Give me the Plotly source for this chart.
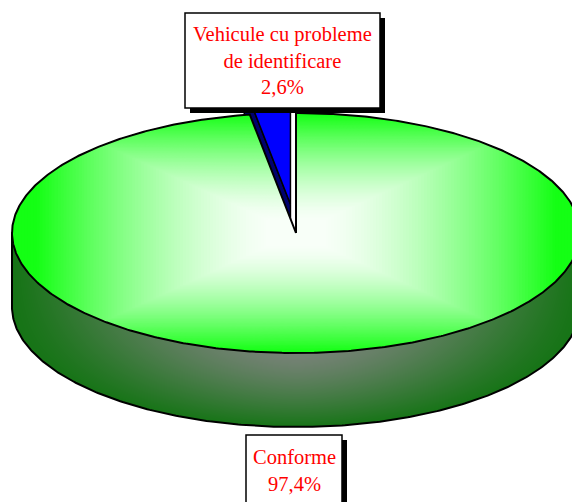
import numpy as np
import plotly.graph_objects as go

# ---- data ----
categories = ["Conforme", "Vehicule cu probleme<br>de identificare"]
values = [97.4, 2.6]
explode = [0.0, 0.24]

# ---- layout / geometry parameters (page pixels) ----
W, H = 572, 502
cx, cy, rx, ry, depth = 296, 233, 284, 120, 74
GRAD_AX, GRAD_AY = 0.92, 1.0   # extent of the rectangular top-face gradient

EDGE_GREEN = (20, 255, 20)
CENTER_GREEN = (248, 255, 248)
SIDE_GRAY = (118, 130, 118)
SIDE_GREEN = (22, 116, 22)
TOP_BLUE = "rgb(0,0,255)"
CUT_BLUE = "rgb(0,0,110)"


def shade(t):
    return float(np.clip((t - 0.1) / 0.9, 0, 1) ** 1.5)


def lerp(c1, c2, t):
    t = min(max(t, 0.0), 1.0)
    return "rgb(%d,%d,%d)" % tuple(round(a + (b - a) * t) for a, b in zip(c1, c2))


def px(theta, r=1.0, ox=0.0):
    return cx + ox + r * rx * np.sin(np.radians(theta))


def py(theta, r=1.0, oy=0.0):
    return cy + oy - r * ry * np.cos(np.radians(theta))


total = sum(values)
bounds = np.concatenate([[0], np.cumsum(values) / total * 360.0])
slices = []
for i, v in enumerate(values):
    a0, a1 = bounds[i], bounds[i + 1]
    mid = np.radians((a0 + a1) / 2)
    ox = explode[i] * rx * np.sin(mid)
    oy = -explode[i] * ry * np.cos(mid)
    slices.append((a0, a1, ox, oy))

fig = go.Figure()


def poly(xs, ys, fill, line_color=None, lw=0.0):
    fig.add_trace(go.Scatter(
        x=list(xs), y=list(ys), mode="lines", fill="toself",
        fillcolor=fill,
        line=dict(color=line_color or fill, width=lw),
        hoverinfo="skip", showlegend=False))


def outline(xs, ys, lw=2):
    fig.add_trace(go.Scatter(
        x=list(xs), y=list(ys), mode="lines",
        line=dict(color="black", width=lw),
        hoverinfo="skip", showlegend=False))


# ---- side face (front half): smooth shading, trimmed by a white mask ----
gx = np.arange(cx - rx, cx + rx + 1, 2.0)
gy = np.arange(cy, cy + ry + depth + 3, 2.0)
GX, GY = np.meshgrid(gx, gy)
U = np.clip(np.abs(GX - cx) / rx, 0, 1)
ytop = cy + ry * np.sqrt(np.clip(1 - U ** 2, 0, 1))
V = np.clip((GY - ytop) / depth, 0, 1)
Z = 1 - (1 - U ** 1.5) * (1 - V ** 1.3)
fig.add_trace(go.Heatmap(
    x=gx, y=gy, z=Z, zmin=0, zmax=1, zsmooth="best", showscale=False,
    colorscale=[[0, lerp(SIDE_GRAY, SIDE_GRAY, 0)], [1, lerp(SIDE_GREEN, SIDE_GREEN, 0)]],
    hoverinfo="skip"))
ta = np.linspace(90, 270, 300)
bx, by = px(ta), py(ta) + depth
mask_x = np.concatenate([bx, [cx - rx - 2, cx - rx - 2, cx + rx + 2, cx + rx + 2]])
mask_y = np.concatenate([by, [cy + depth, H + 20, H + 20, cy + depth]])
poly(mask_x, mask_y, "white", lw=0)
outline(bx, by)
for t in (90.0, 270.0):
    outline([px(t)] * 2, [py(t), py(t) + depth])

# ---- visible radial cut faces of exploded slices ----
for (a0, a1, ox, oy) in slices:
    if ox == 0 and oy == 0:
        continue
    for a, visible in ((a0, np.sin(np.radians(a0)) < -1e-9),
                       (a1, np.sin(np.radians(a1)) > 1e-9)):
        if not visible:
            continue
        xa, ya = cx + ox, cy + oy
        xr, yr = px(a, ox=ox), py(a, oy=oy)
        xs = [xa, xr, xr, xa, xa]
        ys = [ya, yr, yr + depth, ya + depth, ya]
        poly(xs, ys, CUT_BLUE, line_color="black", lw=1.5)


# ---- top faces ----
def sector_path(a0, a1, ox, oy):
    rr = np.linspace(0, 1, 120)
    ta = np.linspace(a0, a1, max(20, int((a1 - a0) * 2)))
    xs = np.concatenate([px(a0, rr, ox), px(ta, 1, ox), px(a1, rr[::-1], ox)])
    ys = np.concatenate([py(a0, rr, oy), py(ta, 1, oy), py(a1, rr[::-1], oy)])
    return xs, ys


for i, (a0, a1, ox, oy) in enumerate(slices):
    xs1, ys1 = sector_path(a0, a1, ox, oy)
    if i == 0:
        for s in np.linspace(1.12, 0.1, 90):
            col = lerp(CENTER_GREEN, EDGE_GREEN, shade(s))
            hx, hy = s * GRAD_AX * rx, s * GRAD_AY * ry
            xs = np.clip(xs1, cx + ox - hx, cx + ox + hx)
            ys = np.clip(ys1, cy + oy - hy, cy + oy + hy)
            poly(xs, ys, col, lw=0)
        outline(xs1, ys1)
    else:
        poly(xs1, ys1, TOP_BLUE, line_color="black", lw=1.5)

# ---- label boxes ----
label_boxes = [  # (x0, x1, y0, y1, text-center-y)
    (246, 342, 435, 512, 470.5),
    (185, 380, 13, 108, 60),
]
shapes = []
annotations = []
for i, (x0, x1, y0, y1, ty) in enumerate(label_boxes):
    shapes.append(dict(type="rect", xref="x", yref="y", x0=x0 + 5, x1=x1 + 5,
                       y0=y0 + 5, y1=y1 + 5, fillcolor="black",
                       line=dict(width=0), layer="above"))
    shapes.append(dict(type="rect", xref="x", yref="y", x0=x0, x1=x1,
                       y0=y0, y1=y1, fillcolor="white",
                       line=dict(color="black", width=1.5), layer="above"))
    pct = ("%.1f" % (values[i] / total * 100)).replace(".", ",") + "%"
    annotations.append(dict(
        x=(x0 + x1) / 2, y=ty, xref="x", yref="y",
        text=categories[i] + "<br>" + pct, showarrow=False,
        xanchor="center", yanchor="middle", align="center",
        font=dict(family="Liberation Serif, Times New Roman, serif",
                  size=20.5, color="red")))

fig.update_layout(
    width=W, height=H,
    margin=dict(l=0, r=0, t=0, b=0),
    paper_bgcolor="white", plot_bgcolor="white",
    xaxis=dict(range=[0, W], visible=False, fixedrange=True),
    yaxis=dict(range=[H, 0], visible=False, fixedrange=True),
    shapes=shapes, annotations=annotations,
    showlegend=False, hovermode=False,
)

fig.write_html(
    "out.html",
    config={"displayModeBar": False, "staticPlot": True},
    post_script="document.body.style.margin='0';"
                "document.body.style.overflow='hidden';",
)
